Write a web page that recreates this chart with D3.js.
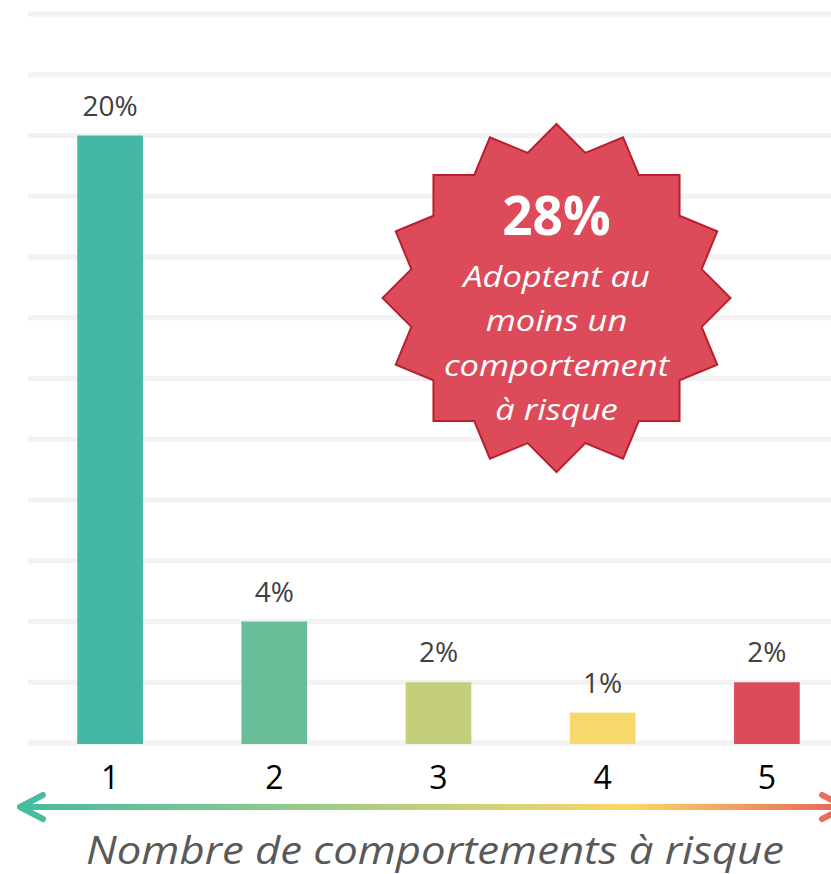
<!DOCTYPE html>
<html>
<head>
<meta charset="utf-8">
<script src="https://cdn.jsdelivr.net/npm/d3@7"></script>
<style>
  html, body { margin: 0; padding: 0; background: #fff; overflow: hidden; }
  text { font-family: "Open Sans", sans-serif; }
</style>
</head>
<body>
<div id="chart"></div>
<script>
// data
const categories = ["1", "2", "3", "4", "5"];
const values = [20, 4, 2, 1, 2];
const barColors = ["#45B8A5", "#67BE98", "#C5CE7B", "#F7D86A", "#DD4B5A"];
const gridTicks = d3.range(0, 25, 2);
const calloutValue = "28%";
const calloutLines = ["Adoptent au", "moins un", "comportement", "à risque"];
const axisTitle = "Nombre de comportements à risque";

const width = 831, height = 874;
const margin = {left: 28, right: -18, top: 14, bottom: 131};

const svg = d3.select("#chart")
  .append("svg")
  .attr("width", width)
  .attr("height", height);

const x = d3.scaleBand()
  .domain(categories)
  .range([margin.left, width - margin.right])
  .paddingInner(0.6)
  .paddingOuter(0.3);

const y = d3.scaleLinear()
  .domain([0, 24])
  .range([height - margin.bottom, margin.top]);

// gridlines
svg.append("g")
  .selectAll("line")
  .data(gridTicks)
  .enter().append("line")
    .attr("x1", margin.left)
    .attr("x2", width)
    .attr("y1", d => y(d))
    .attr("y2", d => y(d))
    .attr("stroke", "#F2F2F2")
    .attr("stroke-width", 5);

// bars
svg.append("g")
  .selectAll("rect")
  .data(values)
  .enter().append("rect")
    .attr("x", (d, i) => x(categories[i]))
    .attr("y", d => y(d))
    .attr("width", x.bandwidth())
    .attr("height", d => y(0) - y(d) + 1)
    .attr("fill", (d, i) => barColors[i]);

// value labels
svg.append("g")
  .selectAll("text")
  .data(values)
  .enter().append("text")
    .attr("x", (d, i) => x(categories[i]) + x.bandwidth() / 2)
    .attr("y", d => y(d) - 20)
    .attr("text-anchor", "middle")
    .attr("font-size", "28px")
    .attr("fill", "#404040")
    .text(d => d + "%");

// category axis (no line, just labels)
const xAxis = svg.append("g")
  .attr("transform", `translate(0,${y(0)})`)
  .call(d3.axisBottom(x).tickSize(0).tickPadding(0));
xAxis.select(".domain").remove();
xAxis.selectAll("text")
  .attr("dy", null)
  .attr("y", 46)
  .attr("font-family", "Open Sans, sans-serif")
  .attr("font-size", "32px")
  .attr("fill", "#000");

// gradient arrow
const defs = svg.append("defs");
const grad = defs.append("linearGradient")
  .attr("id", "arrowGrad")
  .attr("gradientUnits", "userSpaceOnUse")
  .attr("x1", 20).attr("x2", 845)
  .attr("y1", 0).attr("y2", 0);
[["0%", "#45BA9F"], ["25%", "#7EC692"], ["50%", "#C3CF7C"], ["74%", "#F9D766"], ["100%", "#E8645A"]]
  .forEach(([o, c]) => grad.append("stop").attr("offset", o).attr("stop-color", c));

const ay = 807;
const arrow = svg.append("g")
  .attr("fill", "none")
  .attr("stroke", "url(#arrowGrad)")
  .attr("stroke-width", 6)
  .attr("stroke-linecap", "round")
  .attr("stroke-linejoin", "round");
arrow.append("path").attr("d", `M22,${ay}H843`);
arrow.append("path").attr("d", `M43,${ay - 12}L20,${ay}L43,${ay + 12}`);
arrow.append("path").attr("d", `M822,${ay - 12}L845,${ay}L822,${ay + 12}`);

svg.append("text")
  .attr("transform", "translate(435,864) scale(1.15,1)")
  .attr("text-anchor", "middle")
  .attr("font-size", "38px")
  .attr("font-style", "italic")
  .attr("fill", "#595959")
  .text(axisTitle);

// starburst callout
const cx = 556.5, cy = 298, rOut = 174, rIn = 148, nPts = 16;
const starPts = d3.range(nPts * 2).map(i => {
  const a = -Math.PI / 2 + i * Math.PI / nPts;
  const r = i % 2 === 0 ? rOut : rIn;
  return [cx + r * Math.cos(a), cy + r * Math.sin(a)];
});
svg.append("path")
  .attr("d", d3.line()(starPts) + "Z")
  .attr("fill", "#DD4A5A")
  .attr("stroke", "#B8202F")
  .attr("stroke-width", 2);

svg.append("text")
  .attr("x", cx)
  .attr("y", 235)
  .attr("text-anchor", "middle")
  .attr("font-size", "53px")
  .attr("font-weight", "bold")
  .attr("fill", "#fff")
  .text(calloutValue);

const calloutText = svg.append("g")
  .attr("transform", `translate(${cx},0) scale(1.15,1)`);
calloutText.selectAll("text")
  .data(calloutLines)
  .enter().append("text")
    .attr("x", 0)
    .attr("y", (d, i) => 287 + i * 44.3)
    .attr("text-anchor", "middle")
    .attr("font-size", "30px")
    .attr("font-style", "italic")
    .attr("fill", "#fff")
    .text(d => d);
</script>
</body>
</html>
